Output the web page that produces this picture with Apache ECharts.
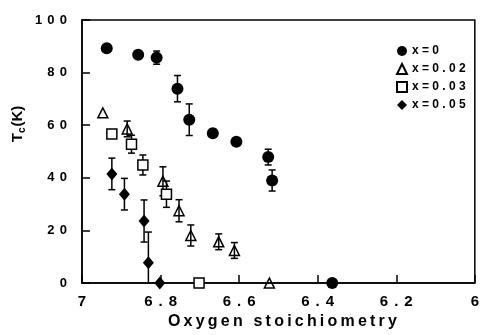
<!DOCTYPE html>
<html>
<head>
<meta charset="utf-8">
<script src="https://cdn.jsdelivr.net/npm/echarts@6/dist/echarts.min.js"></script>
<style>
  html, body { margin: 0; padding: 0; background: #fff; }
  #myChart { width: 482px; height: 335px; }
</style>
</head>
<body>
<div id="myChart"></div>
<script>
  // x = 0
  var x0X = [6.937, 6.857, 6.81, 6.757, 6.727, 6.667, 6.607, 6.526, 6.516, 6.363]
  var x0Y = [89.3, 86.8, 85.7, 73.9, 62.1, 57.0, 53.7, 47.9, 39.0, 0]
  var x0Err = [0, 0, 2.5, 5, 6, 1.5, 0, 3, 4, 0]
  // x = 0.02
  var x02X = [6.947, 6.885, 6.794, 6.753, 6.723, 6.652, 6.612, 6.523]
  var x02Y = [64.7, 58.6, 38.7, 27.5, 18.1, 15.7, 12.4, 0]
  var x02Err = [0, 3, 5.5, 4.2, 4, 3, 3, 0]
  // x = 0.03
  var x03X = [6.924, 6.874, 6.845, 6.785, 6.702]
  var x03Y = [56.7, 52.8, 44.9, 33.8, 0]
  var x03Err = [0, 3.4, 3.8, 5, 0]
  // x = 0.05
  var x05X = [6.924, 6.892, 6.842, 6.831, 6.802]
  var x05Y = [41.5, 33.8, 23.6, 7.7, 0]
  var x05Err = [6, 6, 8, 11.7, 0]

  var seriesNames = ['x=0', 'x=0.02', 'x=0.03', 'x=0.05']
  var xTicks = [7, 6.8, 6.6, 6.4, 6.2, 6]
  var yTicks = [0, 20, 40, 60, 80, 100]

  var font = "'Liberation Sans', Arial, sans-serif"

  // spread letters out like the old typeset figure
  function sp(s, gap) {
    return String(s).split('').join(gap)
  }

  function points(xs, ys) {
    return xs.map(function(x, i) { return [x, ys[i]] })
  }

  function errPoints(xs, ys, es) {
    var out = []
    xs.forEach(function(x, i) {
      if (es[i] > 0) out.push([x, ys[i], es[i]])
    })
    return out
  }

  function renderErr(params, api) {
    var x = api.value(0)
    var y = api.value(1)
    var e = api.value(2)
    var top = api.coord([x, y + e])
    var bot = api.coord([x, y - e])
    var w = 3.5
    var st = { stroke: '#000', lineWidth: 1.5 }
    return {
      type: 'group',
      children: [
        { type: 'line', shape: { x1: top[0], y1: top[1], x2: bot[0], y2: bot[1] }, style: st },
        { type: 'line', shape: { x1: top[0] - w, y1: top[1], x2: top[0] + w, y2: top[1] }, style: st },
        { type: 'line', shape: { x1: bot[0] - w, y1: bot[1], x2: bot[0] + w, y2: bot[1] }, style: st }
      ]
    }
  }

  var myChart = echarts.init(document.getElementById('myChart'))
  var allErr = []
    .concat(errPoints(x0X, x0Y, x0Err))
    .concat(errPoints(x02X, x02Y, x02Err))
    .concat(errPoints(x03X, x03Y, x03Err))
    .concat(errPoints(x05X, x05Y, x05Err))

  myChart.setOption({
    animation: false,
    grid: {
      left: 82, right: 2, top: 20, bottom: 43,
      show: true, borderColor: '#000', borderWidth: 1.5
    },
    legend: {
      data: seriesNames,
      orient: 'vertical',
      left: 391,
      top: 40,
      itemWidth: 10,
      itemHeight: 10,
      itemGap: 6,
      textStyle: { fontFamily: font, fontWeight: 'bold', fontSize: 12, color: '#000' },
      formatter: function(name) { return sp(name, ' ') }
    },
    xAxis: {
      type: 'value',
      inverse: true,
      min: 6,
      max: 7,
      interval: 0.2,
      name: sp('Oxygen', '\u2009') + '\u2009 \u2009' + sp('stoichiometry', '\u2009'),
      nameLocation: 'middle',
      nameGap: 24,
      nameTextStyle: { fontFamily: font, fontWeight: 'bold', fontSize: 16, color: '#000', padding: [0, 0, 0, 8] },
      axisLine: { lineStyle: { color: '#000', width: 1.5 } },
      axisTick: { inside: true, length: 8, lineStyle: { color: '#000', width: 1.5 } },
      splitLine: { show: false },
      axisLabel: {
        margin: 11,
        fontFamily: font, fontWeight: 'bold', fontSize: 15, color: '#000',
        formatter: function(v) {
          var r = Math.round(v * 10) / 10
          if (xTicks.indexOf(r) < 0) return ''
          return sp(r, '\u2009\u2009')
        }
      }
    },
    yAxis: {
      type: 'value',
      min: 0,
      max: 100,
      interval: 20,
      axisLine: { show: true, lineStyle: { color: '#000', width: 1.5 } },
      axisTick: { show: true, inside: true, length: 8, lineStyle: { color: '#000', width: 1.5 } },
      splitLine: { show: false },
      axisLabel: {
        margin: 15,
        fontFamily: font, fontWeight: 'bold', fontSize: 13, color: '#000',
        formatter: function(v) {
          if (yTicks.indexOf(v) < 0) return ''
          return sp(v, '\u2009\u2009')
        }
      }
    },
    graphic: [{
      type: 'text',
      x: 18,
      y: 124,
      rotation: Math.PI / 2,
      style: {
        text: '{a|T}{b|c}{a|(K)}',
        align: 'center',
        verticalAlign: 'middle',
        fill: '#000',
        rich: {
          a: { fontFamily: font, fontWeight: 'bold', fontSize: 15, fill: '#000', lineHeight: 18, verticalAlign: 'middle' },
          b: { fontFamily: font, fontWeight: 'bold', fontSize: 10, fill: '#000', lineHeight: 18, verticalAlign: 'bottom', padding: [0, 1, 0, 0] }
        }
      }
    }],
    series: [
      {
        name: 'errors',
        type: 'custom',
        renderItem: renderErr,
        data: allErr,
        clip: true,
        z: 1,
        encode: { x: 0, y: 1 }
      },
      {
        name: 'x=0',
        type: 'scatter',
        symbol: 'circle',
        symbolSize: 12,
        clip: false,
        z: 3,
        itemStyle: { color: '#000', opacity: 1 },
        data: points(x0X, x0Y)
      },
      {
        name: 'x=0.02',
        type: 'scatter',
        symbol: 'triangle',
        symbolSize: 10,
        clip: false,
        z: 3,
        itemStyle: { color: 'rgba(255,255,255,0)', borderColor: '#000', borderWidth: 1.5, opacity: 1 },
        data: points(x02X, x02Y)
      },
      {
        name: 'x=0.03',
        type: 'scatter',
        symbol: 'rect',
        symbolSize: 10,
        clip: false,
        z: 3,
        itemStyle: { color: '#fff', borderColor: '#000', borderWidth: 1.5, opacity: 1 },
        data: points(x03X, x03Y)
      },
      {
        name: 'x=0.05',
        type: 'scatter',
        symbol: 'diamond',
        symbolSize: [11, 13],
        clip: false,
        z: 3,
        itemStyle: { color: '#000', opacity: 1 },
        data: points(x05X, x05Y)
      }
    ]
  })
</script>
</body>
</html>
